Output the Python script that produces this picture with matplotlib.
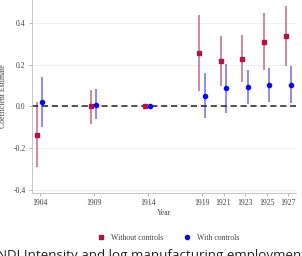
import matplotlib.pyplot as plt
import numpy as np
from matplotlib.lines import Line2D

years = [1904, 1909, 1914, 1919, 1921, 1923, 1925, 1927]

# without controls
est_nc = [-0.135, 0.0, 0.0, 0.256, 0.219, 0.227, 0.311, 0.338]
lo_nc = [-0.29, -0.082, 0.0, 0.076, 0.100, 0.116, 0.176, 0.194]
hi_nc = [0.02, 0.081, 0.0, 0.438, 0.338, 0.340, 0.446, 0.482]

# with controls
est_wc = [0.022, 0.008, 0.0, 0.049, 0.087, 0.092, 0.103, 0.103]
lo_wc = [-0.097, -0.062, 0.0, -0.057, -0.033, 0.013, 0.020, 0.014]
hi_wc = [0.140, 0.084, 0.0, 0.160, 0.205, 0.175, 0.184, 0.195]

yticks = [-0.4, -0.2, 0.0, 0.2, 0.4]

RED = '#b5124a'
BLUE = '#0a0aee'
SERIF = 'Liberation Serif'

fig = plt.figure(figsize=(3.02, 2.56), dpi=100)
ax = fig.add_axes([32 / 302, 1 - 193 / 256, 264 / 302, 193 / 256])

x = np.array(years, dtype=float)
off = 0.25
ax.vlines(x - off, lo_nc, hi_nc, color=RED, alpha=0.6, lw=1.2)
ax.vlines(x + off, lo_wc, hi_wc, color=BLUE, alpha=0.55, lw=1.2)
ax.plot(x - off, est_nc, 's', color=RED, ms=3.0, zorder=3)
ax.plot(x + off, est_wc, 'o', color=BLUE, ms=3.0, zorder=3)
ax.axhline(0, color='#222222', ls=(0, (4, 2.5)), lw=1.1, zorder=2)

ax.set_xlim(1903.3, 1927.7)
ax.set_ylim(-0.415, 0.51)
ax.set_xticks(years)
ax.set_xticklabels([str(y) for y in years], fontsize=5.6, family=SERIF, color='#444444')
ax.set_yticks(yticks)
ax.set_yticklabels([f'{t:.1f}' for t in yticks], fontsize=5.6, family=SERIF, color='#444444')
ax.grid(axis='y', color='#eeeeee', lw=0.6)
ax.set_axisbelow(True)
for s in ['top', 'right']:
    ax.spines[s].set_visible(False)
for s in ['left', 'bottom']:
    ax.spines[s].set_color('#bbbbbb')
    ax.spines[s].set_linewidth(0.6)
ax.tick_params(length=2.5, width=0.5, color='#999999', pad=2)
ax.set_xlabel('Year', fontsize=5.6, family=SERIF, color='#444444', labelpad=1)
ax.set_ylabel('Coefficient Estimate', fontsize=5.6, family=SERIF, color='#444444', labelpad=5)

handles = [
    Line2D([], [], marker='s', color=RED, ls='none', ms=3),
    Line2D([], [], marker='o', color=BLUE, ls='none', ms=3),
]
fig.legend(handles, ['Without controls', 'With controls'], loc='center',
           bbox_to_anchor=(0.55, 1 - 237.5 / 256), ncol=2, frameon=False,
           prop={'family': SERIF, 'size': 5.6}, handletextpad=0.3,
           columnspacing=2.0, labelcolor='#444444')

fig.text(-0.01, 1 - 249 / 256, 'NDI Intensity and log manufacturing employment',
         fontsize=9.6, family='Open Sans', va='top', ha='left', color='#222222')

fig.savefig('out.png', dpi=100)
